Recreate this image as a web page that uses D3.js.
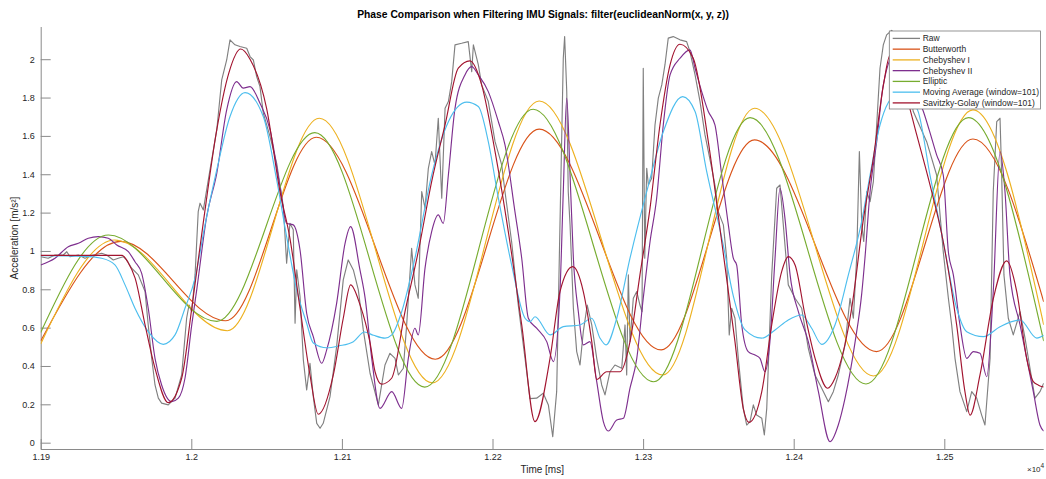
<!DOCTYPE html>
<html><head><meta charset="utf-8">
<script src="https://cdn.jsdelivr.net/npm/d3@7"></script>
<style>
body{margin:0;background:#fff;}
svg{display:block;font-family:"Liberation Sans",Arial,Helvetica,sans-serif;}
</style>
</head><body>
<svg id="chart" width="1046" height="479"></svg>
<script>
// ---------------- data (time in ms, acceleration in m/s^2) ----------------
const titleText = "Phase Comparison when Filtering IMU Signals: filter(euclideanNorm(x, y, z))";
const xLabel = "Time [ms]";
const yLabel = "Acceleration [m/s²]";
const xTicks = [11900, 12000, 12100, 12200, 12300, 12400, 12500];
const yTicks = [0, 0.2, 0.4, 0.6, 0.8, 1, 1.2, 1.4, 1.6, 1.8, 2];
const seriesNames = ["Raw", "Butterworth", "Chebyshev I", "Chebyshev II", "Elliptic",
  "Moving Average (window=101)", "Savitzky-Golay (window=101)"];
const seriesColors = ["#808080", "#D95319", "#EDB120", "#7E2F8E", "#77AC30", "#4DBEEE", "#A2142F"];

const rawT = [11900,11905,11909.5,11915,11917.3,11919.5,11925,11929.4,11934.9,11940.5,11943.8,11948.2,11951.5,11954.8,11957.1,11960.4,11964.8,11969.3,11971.4,11973.7,11975.9,11978.1,11980.3,11984.7,11989.2,11993.6,11996.9,11998.5,12000.3,12002.5,12004.6,12005.8,12008,12012.4,12016.9,12020.2,12023.5,12025.7,12029,12032.3,12036.8,12039,12041.2,12043.4,12045.6,12047.8,12052.3,12056.7,12061.1,12063.3,12065.5,12067.7,12068.9,12070,12072.2,12074.4,12076.6,12078.8,12081,12083.3,12085.5,12087.6,12092.1,12096.5,12100.9,12104.2,12107.6,12110.9,12114.2,12118.7,12124.2,12126.4,12128.6,12131.9,12135.3,12137.5,12140.8,12143,12146.3,12148.5,12150.7,12153,12155.2,12157.4,12159.6,12161.8,12164,12166.3,12168.5,12170.7,12172.9,12175.1,12179.5,12183.9,12186.2,12187.3,12190.6,12192.8,12197.2,12201.7,12206.1,12208.3,12212.7,12217.1,12221.6,12224.9,12229.3,12233.7,12237.1,12240,12242.6,12244.8,12247,12247.9,12249.3,12250.3,12251.5,12253.7,12255.9,12258.1,12260.3,12262.9,12265.9,12269.2,12272.5,12274.7,12278,12281.3,12285.8,12288,12289.1,12290.2,12291.3,12293.5,12295.8,12297.9,12299.3,12300.1,12301.1,12302.4,12303.5,12305.7,12307.9,12310.1,12312.4,12314.5,12316.7,12320,12324.5,12328.9,12331.1,12334.5,12337.8,12341.1,12345.6,12347.7,12349.9,12353.3,12355.5,12357.2,12358.8,12361,12363.2,12366.5,12368.8,12371,12373.2,12375.4,12378.8,12380.5,12382.1,12385.4,12388.7,12390.9,12393.1,12396.4,12400.9,12405.3,12409.7,12414.1,12418.6,12423,12426.3,12429.6,12434.1,12437.4,12439.6,12441.8,12443.6,12445.2,12446.5,12448.5,12450.7,12452.9,12455.1,12457.3,12459.5,12461.7,12465,12469,12474,12479.4,12488.3,12494.9,12499.3,12502.7,12504.9,12507.1,12510.4,12514.9,12518.2,12521.5,12524.8,12527,12530.4,12532.5,12534.8,12537,12538.1,12539.6,12542.5,12545.8,12550.3,12553.6,12556.9,12560.2,12563.5,12566];
const rawV = [0.970,0.962,0.979,0.979,0.996,0.970,0.979,0.962,0.979,0.988,0.979,0.953,0.962,0.970,0.953,0.910,0.875,0.788,0.614,0.440,0.301,0.232,0.206,0.197,0.232,0.353,0.649,0.718,0.683,0.875,1.205,1.249,1.214,1.423,1.631,1.892,1.996,2.101,2.075,2.066,2.057,2.014,1.996,1.909,1.857,1.718,1.596,1.457,1.231,0.936,1.144,1.110,0.623,0.901,0.762,0.431,0.275,0.414,0.240,0.101,0.075,0.101,0.240,0.501,0.849,0.953,0.901,0.797,0.588,0.362,0.197,0.301,0.405,0.466,0.440,0.353,0.388,0.614,1.014,0.823,0.753,1.309,1.223,1.431,1.518,1.449,1.692,1.275,1.744,1.779,1.883,2.075,2.083,2.092,1.935,2.075,1.970,1.866,1.779,1.570,1.449,1.309,1.048,0.718,0.440,0.230,0.232,0.258,0.197,0.031,0.266,1.136,2.005,2.118,1.831,1.309,1.136,0.701,0.475,0.405,0.579,0.718,0.614,0.440,0.301,0.249,0.370,0.405,0.388,0.614,0.353,0.875,0.527,0.753,0.788,0.718,0.683,1.953,0.962,1.431,1.344,1.379,1.657,1.797,1.866,1.970,2.110,2.118,2.101,2.092,2.040,1.918,1.779,1.605,1.431,1.344,1.205,1.136,0.962,0.562,0.701,0.649,0.440,0.179,0.092,0.110,0.197,0.144,0.127,0.040,0.179,0.875,1.327,1.344,1.136,0.823,0.753,0.701,0.492,0.353,0.284,0.214,0.266,0.353,0.510,0.753,0.649,0.962,1.518,1.136,1.050,1.309,1.257,1.362,1.657,1.953,2.075,2.127,2.150,2.120,1.950,1.727,1.570,1.396,0.996,0.753,0.614,0.440,0.266,0.162,0.266,0.232,0.144,0.092,0.440,1.309,1.674,1.692,1.396,0.875,0.649,0.562,0.683,0.545,0.388,0.232,0.266,0.310];

const butterT = [11900,11953,12023,12083,12162,12231,12312,12374,12455,12519,12566];
const butterV = [0.530,1.050,0.636,1.593,0.435,1.635,0.484,1.579,0.475,1.584,0.735];

const cheb1T = [11900,11949,12024,12085,12160,12231,12313,12374,12453,12519,12566];
const cheb1V = [0.515,1.057,0.584,1.692,0.312,1.782,0.353,1.744,0.348,1.736,0.615];

const ellipT = [11900,11945,12017,12082,12155,12227,12307,12371,12448,12516,12566];
const ellipV = [0.575,1.083,0.633,1.617,0.290,1.739,0.318,1.695,0.306,1.695,0.530];

const cheb2T = [11900,11909.5,11918.3,11925,11931.6,11938.2,11944.9,11950.5,11958.2,11962.6,11967,11971.4,11975.9,11980.3,11987,11991.4,11995.8,12000.3,12003.6,12010.2,12016.9,12023.5,12030.1,12034.5,12039,12045.6,12052.3,12058.9,12063.3,12067.7,12072.2,12076.6,12081,12086.6,12089.9,12096.5,12102.1,12105.8,12112,12115.5,12119.8,12125.3,12133.1,12139.7,12144.1,12148.5,12150.7,12155.2,12159.6,12164,12167.3,12170.7,12175.1,12181.7,12186.2,12190.6,12197.2,12203.9,12208.3,12214.9,12219.4,12223.8,12229.3,12236,12240.4,12244.8,12247,12249.3,12251.5,12253.7,12257,12260.3,12264.7,12269.2,12273.6,12276.9,12282.5,12286.9,12291.3,12295.8,12300.1,12304.6,12309,12313.4,12317.9,12324.5,12331.1,12334.5,12338.9,12343.3,12347.7,12352.2,12356.6,12359.9,12362.1,12365.5,12369.8,12374.3,12377.6,12380.9,12384.2,12387.6,12390.9,12394.2,12397.6,12403.1,12409.7,12416.4,12424.1,12429.6,12434.1,12440.8,12445.2,12447.3,12450.7,12455.1,12459.5,12468,12478,12486,12490,12494.9,12499.3,12502.7,12506,12510.4,12514.9,12519.3,12523.7,12528.2,12532.5,12537,12540.3,12543.6,12550.3,12554.7,12559.1,12563.5,12566];
const cheb2V = [0.927,0.962,1.022,1.040,1.066,1.075,1.066,1.031,0.996,0.944,0.884,0.701,0.440,0.301,0.214,0.232,0.336,0.614,0.797,1.179,1.405,1.736,1.883,1.849,1.857,1.770,1.631,1.335,1.144,1.136,1.005,0.675,0.553,0.414,0.484,0.727,1.040,1.127,0.901,0.750,0.440,0.179,0.266,0.179,0.440,0.597,0.562,0.910,1.101,1.188,1.144,1.396,1.744,1.918,1.961,1.918,1.831,1.674,1.553,1.205,0.962,0.649,0.597,0.527,0.423,0.788,1.309,1.797,1.396,0.962,0.683,0.510,0.527,0.318,0.110,0.061,0.118,0.127,0.284,0.440,0.753,1.048,1.275,1.657,1.918,2.005,2.049,1.953,1.831,1.727,1.657,1.396,1.136,0.962,0.927,0.614,0.475,0.457,0.440,0.370,0.527,0.962,1.327,1.170,0.875,0.683,0.527,0.266,0.005,0.092,0.232,0.527,0.780,0.962,1.309,1.570,1.866,2.040,1.860,1.730,1.630,1.501,1.396,0.996,0.875,0.614,0.440,0.475,0.466,0.344,0.788,1.518,1.309,0.875,0.614,0.440,0.266,0.092,0.060];

const movAvgT = [11900,11929,11940.5,11949.3,11956,11962.6,11971.4,11981.4,11989.2,11995.8,12002.5,12009.1,12016.9,12025.7,12035.7,12047.8,12056.7,12063.3,12070,12076.6,12081,12090,12098,12107.6,12115,12121,12128.6,12133.1,12139.7,12148.5,12159.6,12170.7,12182.9,12190.6,12197.2,12203.9,12212.7,12221.6,12224.9,12228.2,12238.2,12247,12258.1,12265.9,12271.4,12275.4,12282.5,12291.3,12302.4,12313.4,12326.3,12334.5,12342,12353,12360,12367.7,12378.8,12387.6,12396.4,12405.3,12411.9,12418.6,12427.4,12436.3,12445.1,12450.7,12457.3,12468,12481.7,12490.5,12499.3,12508.2,12514.9,12526,12537,12550.3,12561.4,12566];
const movAvgV = [0.975,0.972,0.962,0.927,0.823,0.701,0.579,0.513,0.562,0.701,0.858,1.136,1.423,1.701,1.826,1.701,1.370,1.075,0.797,0.623,0.520,0.495,0.505,0.527,0.577,0.560,0.545,0.562,0.683,0.962,1.396,1.674,1.776,1.753,1.570,1.275,0.927,0.649,0.631,0.657,0.562,0.605,0.614,0.649,0.545,0.510,0.649,0.962,1.309,1.622,1.805,1.727,1.423,1.040,0.762,0.588,0.545,0.588,0.640,0.666,0.597,0.513,0.614,0.875,1.153,1.396,1.657,1.810,1.744,1.396,1.048,0.701,0.579,0.553,0.605,0.640,0.545,0.560];

const sgT = [11900,11954,11958,11962.7,11969.3,11975.9,11984.7,11993.6,12000.3,12008,12016.9,12025,12032.8,12039,12050,12058.9,12065.5,12072.2,12078.8,12084.3,12094.3,12100.9,12105.8,12112,12118.7,12122,12126.4,12133,12141.9,12150.7,12159.6,12168.5,12177.3,12185,12192.8,12201.7,12210.5,12219.4,12228.2,12238.2,12244.8,12253.3,12260.3,12265.9,12269.2,12275.8,12284.7,12291.3,12297.9,12304.6,12311.2,12317.9,12324.5,12333.3,12343.3,12352.2,12361,12366.5,12370.3,12378.8,12385.4,12392,12396.4,12400.9,12407.5,12414.2,12422.5,12427.4,12438.5,12446,12452.9,12459.6,12464,12472.6,12481.7,12490.5,12499.3,12508.2,12513.7,12517.1,12523.7,12532.6,12541.4,12548.1,12554.7,12559.1,12562.5,12566];
const sgV = [0.977,0.977,0.940,0.858,0.614,0.388,0.209,0.336,0.700,1.150,1.631,1.930,2.053,2.000,1.744,1.309,1.066,0.701,0.353,0.148,0.353,0.649,0.823,0.720,0.520,0.370,0.305,0.336,0.683,0.996,1.362,1.657,1.953,1.991,1.866,1.518,1.101,0.614,0.110,0.440,0.788,0.918,0.788,0.527,0.330,0.370,0.370,0.527,0.875,1.223,1.657,1.970,2.078,2.005,1.570,1.048,0.527,0.179,0.106,0.266,0.614,0.892,0.970,0.927,0.666,0.440,0.284,0.336,0.701,1.150,1.484,1.866,2.020,1.866,1.605,1.344,1.048,0.614,0.266,0.144,0.353,0.753,0.948,0.788,0.440,0.318,0.300,0.290];

// ---------------- chart ----------------
const svg = d3.select("#chart");
const plot = {left: 40.7, right: 1043.7, top: 27, bottom: 449};
const x = d3.scaleLinear().domain([11900, 12566]).range([plot.left, plot.right]);
const y = d3.scaleLinear().domain([-0.033, 2.168]).range([plot.bottom, plot.top]);
const textColor = "#262626";

svg.append("defs").append("clipPath").attr("id", "clip")
  .append("rect").attr("x", plot.left).attr("y", plot.top)
  .attr("width", plot.right - plot.left).attr("height", plot.bottom - plot.top);

// axes
const xAxis = d3.axisBottom(x).tickValues(xTicks).tickSizeInner(-10).tickSizeOuter(0).tickPadding(5)
  .tickFormat(d => String(+(d / 10000).toFixed(2)));
const yAxis = d3.axisLeft(y).tickValues(yTicks).tickSizeInner(-10).tickSizeOuter(0).tickPadding(6)
  .tickFormat(d => String(d));

const gx = svg.append("g").attr("transform", `translate(0,${plot.bottom})`).call(xAxis);
const gy = svg.append("g").attr("transform", `translate(${plot.left},0)`).call(yAxis);
[gx, gy].forEach(g => {
  g.select(".domain").attr("stroke", "#8a8a8a").attr("stroke-width", 1);
  g.selectAll(".tick line").attr("stroke", "#8a8a8a").attr("stroke-width", 1);
  g.selectAll(".tick text").attr("fill", textColor).attr("font-size", 9)
    .attr("font-family", '"Liberation Sans", Arial, sans-serif');
});
gx.select(".domain").attr("d", `M${plot.left},0.5H${plot.right}`);
gy.select(".domain").attr("d", `M0.5,${plot.top}V${plot.bottom}`);

// lines
const allT = [rawT, butterT, cheb1T, cheb2T, ellipT, movAvgT, sgT];
const allV = [rawV, butterV, cheb1V, cheb2V, ellipV, movAvgV, sgV];
const curves = [d3.curveLinear, d3.curveMonotoneX, d3.curveMonotoneX, d3.curveMonotoneX,
  d3.curveMonotoneX, d3.curveMonotoneX, d3.curveMonotoneX];
const lines = svg.append("g").attr("clip-path", "url(#clip)");
seriesNames.forEach((name, i) => {
  const pts = allT[i].map((t, j) => [t, allV[i][j]]);
  const gen = d3.line().x(d => x(d[0])).y(d => y(d[1])).curve(curves[i]);
  lines.append("path").datum(pts).attr("d", gen)
    .attr("fill", "none").attr("stroke", seriesColors[i])
    .attr("stroke-width", 1.15).attr("stroke-linejoin", "round");
});

// title
const title = svg.append("text").attr("x", 543).attr("y", 17.5).attr("text-anchor", "middle")
  .attr("font-weight", "bold").attr("font-size", 10).attr("fill", "#000").text(titleText);
function fitWidth(sel, target) {
  const w = sel.node().getComputedTextLength();
  const fs = parseFloat(sel.attr("font-size"));
  sel.attr("font-size", fs * target / w);
}
fitWidth(title, 372);

// axis labels
svg.append("text").attr("x", (plot.left + plot.right) / 2).attr("y", 473)
  .attr("text-anchor", "middle").attr("font-size", 10).attr("fill", textColor).text(xLabel);
svg.append("text").attr("transform", `translate(18,${(plot.top + plot.bottom) / 2}) rotate(-90)`)
  .attr("text-anchor", "middle").attr("font-size", 10).attr("fill", textColor).text(yLabel);
const ex = svg.append("text").attr("x", 1027).attr("y", 472).attr("font-size", 8).attr("fill", textColor);
ex.append("tspan").text("×10");
ex.append("tspan").attr("dy", -4).attr("font-size", 6.5).text("4");

// legend
const lg = {x0: 889.3, y0: 31, x1: 1040.5, y1: 109, row0: 38.4, step: 10.75};
const legend = svg.append("g");
legend.append("rect").attr("x", lg.x0).attr("y", lg.y0).attr("width", lg.x1 - lg.x0)
  .attr("height", lg.y1 - lg.y0).attr("fill", "#fff").attr("stroke", "#7a7a7a").attr("stroke-width", 0.8);
const labels = [];
seriesNames.forEach((name, i) => {
  const yy = lg.row0 + i * lg.step;
  legend.append("line").attr("x1", 892.7).attr("x2", 920).attr("y1", yy).attr("y2", yy)
    .attr("stroke", seriesColors[i]).attr("stroke-width", 1.3);
  labels.push(legend.append("text").attr("x", 922.7).attr("y", yy).attr("dy", "0.35em")
    .attr("font-size", 9).attr("fill", textColor).text(name));
});
const refW = labels[5].node().getComputedTextLength();
const legendFs = 9 * 116.5 / refW;
labels.forEach(l => l.attr("font-size", legendFs));
</script>
</body></html>
